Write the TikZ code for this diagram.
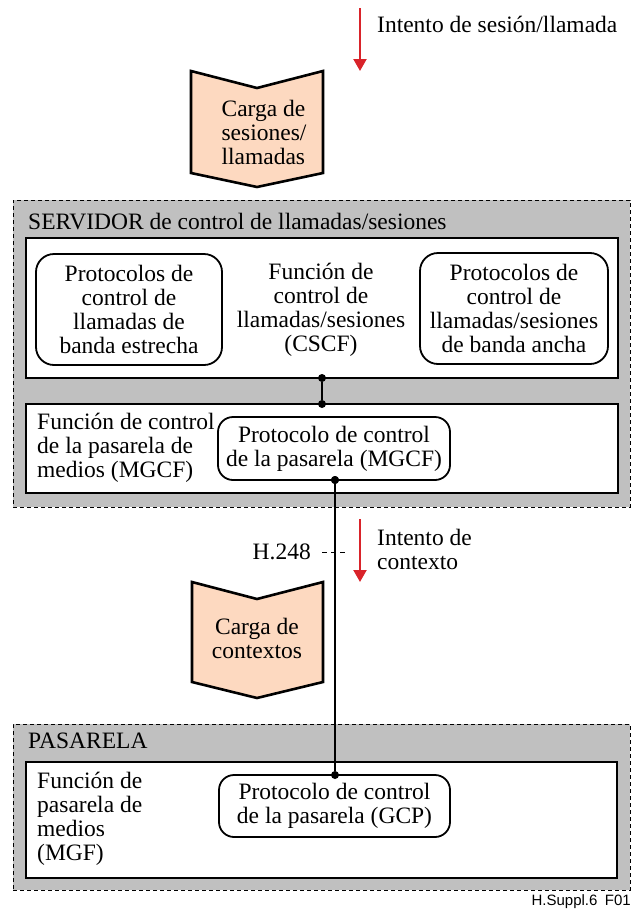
\documentclass[tikz,border=0pt]{standalone}
\usepackage{fontspec}
\setmainfont{Liberation Serif}
\newfontfamily\tagfont{Liberation Sans}
\usetikzlibrary{arrows.meta,positioning}
\definecolor{shade}{HTML}{C0C0C0}
\definecolor{load}{HTML}{FDD9C0}
\definecolor{intent}{HTML}{D9232A}
\newcommand{\figtxt}{\fontsize{23.5}{24}\selectfont}
\tikzset{
  zone/.style={fill=shade, draw=black, line width=0.9pt, dash pattern=on 4pt off 3pt},
  func/.style={fill=white, draw=black, line width=2.6pt},
  proto/.style={draw=black, fill=white, line width=1.8pt, rounded corners=18pt, align=center, inner sep=0pt, font=\figtxt},
  chev/.style={fill=load, draw=black, line width=2.6pt, line join=miter},
  flow/.style={draw=intent, line width=2.2pt, -{Triangle[length=12pt,width=13pt]}},
  link/.style={draw=black, line width=2.6pt},
  guide/.style={draw=black, line width=0.9pt, dash pattern=on 5pt off 4pt},
  dot/.style={circle, fill=black, inner sep=0pt, minimum size=8pt},
  lab/.style={font=\figtxt, align=center, inner sep=0pt},
  labl/.style={font=\figtxt, align=left, inner sep=0pt},
}

\begin{document}
\begin{tikzpicture}[x=1pt, y=-1pt]
\useasboundingbox (0,0) rectangle (632,913);

\coordinate (s0) at (360,8);
\coordinate (s1) at (360,71);
\draw[flow] (s0) -- (s1);
\node[labl, anchor=base west] (sesint) at (377,32) {Intento de sesión/llamada};

\draw[chev] (191,71) -- (257,88) -- (323,71) -- (323,173) -- (257,187) -- (191,173) -- cycle;
\node[labl] (sesload) at (264,132) {Carga de\\sesiones/\\llamadas};

\node[zone, minimum width=617, minimum height=307] (server) at (321.5,353.5) {};
\node[labl, anchor=base west] (servtitle) at (28,229) {SERVIDOR de control de llamadas/sesiones};
\node[func, minimum width=592, minimum height=140] (cscfbox) at (322,308) {};
\node[proto, minimum width=186, minimum height=111] (narrow) at (129,309.5) {Protocolos de\\control de\\llamadas de\\banda estrecha};
\node[proto, minimum width=188, minimum height=111] (wide) at (514,308.5) {Protocolos de\\control de\\llamadas/sesiones\\de banda ancha};
\node[lab] (cscf) at (321,310) {Función de\\control de\\llamadas/sesiones\\(CSCF)};

\node[func, minimum width=592, minimum height=89] (mgcfbox) at (322,448.5) {};
\node[labl, anchor=west] (mgcf) at (37,447.5) {Función de control\\de la pasarela de\\medios (MGCF)};
\node[proto, rounded corners=15pt, minimum width=232, minimum height=63] (mgcfprot) at (334,448.5) {Protocolo de control\\de la pasarela (MGCF)};

\node[dot] (d1) at (322,378) {};
\node[dot] (d2) at (322,404) {};
\node[dot] (d3) at (335,480) {};
\draw[link] (d1) -- (d2);

\coordinate (c0) at (360,519);
\coordinate (c1) at (360,582);
\draw[flow] (c0) -- (c1);
\node[labl, anchor=west] (ctxint) at (377,549.5) {Intento de\\contexto};
\node[lab, anchor=east] (h248) at (311,552) {H.248};
\draw[guide] ([xshift=11pt]h248.east) -- ++(26,0);

\draw[chev] (192,582) -- (257,599) -- (323,582) -- (323,682) -- (257,698) -- (192,682) -- cycle;
\node[lab] (ctxload) at (257,638) {Carga de\\contextos};

\node[zone, minimum width=617, minimum height=166] (gateway) at (321.5,807) {};
\node[labl, anchor=base west] (gwtitle) at (28,748) {PASARELA};
\node[func, minimum width=591, minimum height=116] (mgfbox) at (321.5,820) {};
\node[labl, anchor=west] (mgf) at (37,819) {Función de\\pasarela de\\medios\\(MGF)};
\node[proto, rounded corners=15pt, minimum width=231, minimum height=62] (gcp) at (334.5,806) {Protocolo de control\\de la pasarela (GCP)};

\node[dot] (d4) at (335,775) {};
\draw[link] (d3) -- (d4);
\node[dot] at (d3) {};

\node[anchor=east, inner sep=0pt, font=\tagfont\fontsize{15}{17}\selectfont] (figtag) at (631,902) {H.Suppl.6\enspace F01};
\end{tikzpicture}
\end{document}
